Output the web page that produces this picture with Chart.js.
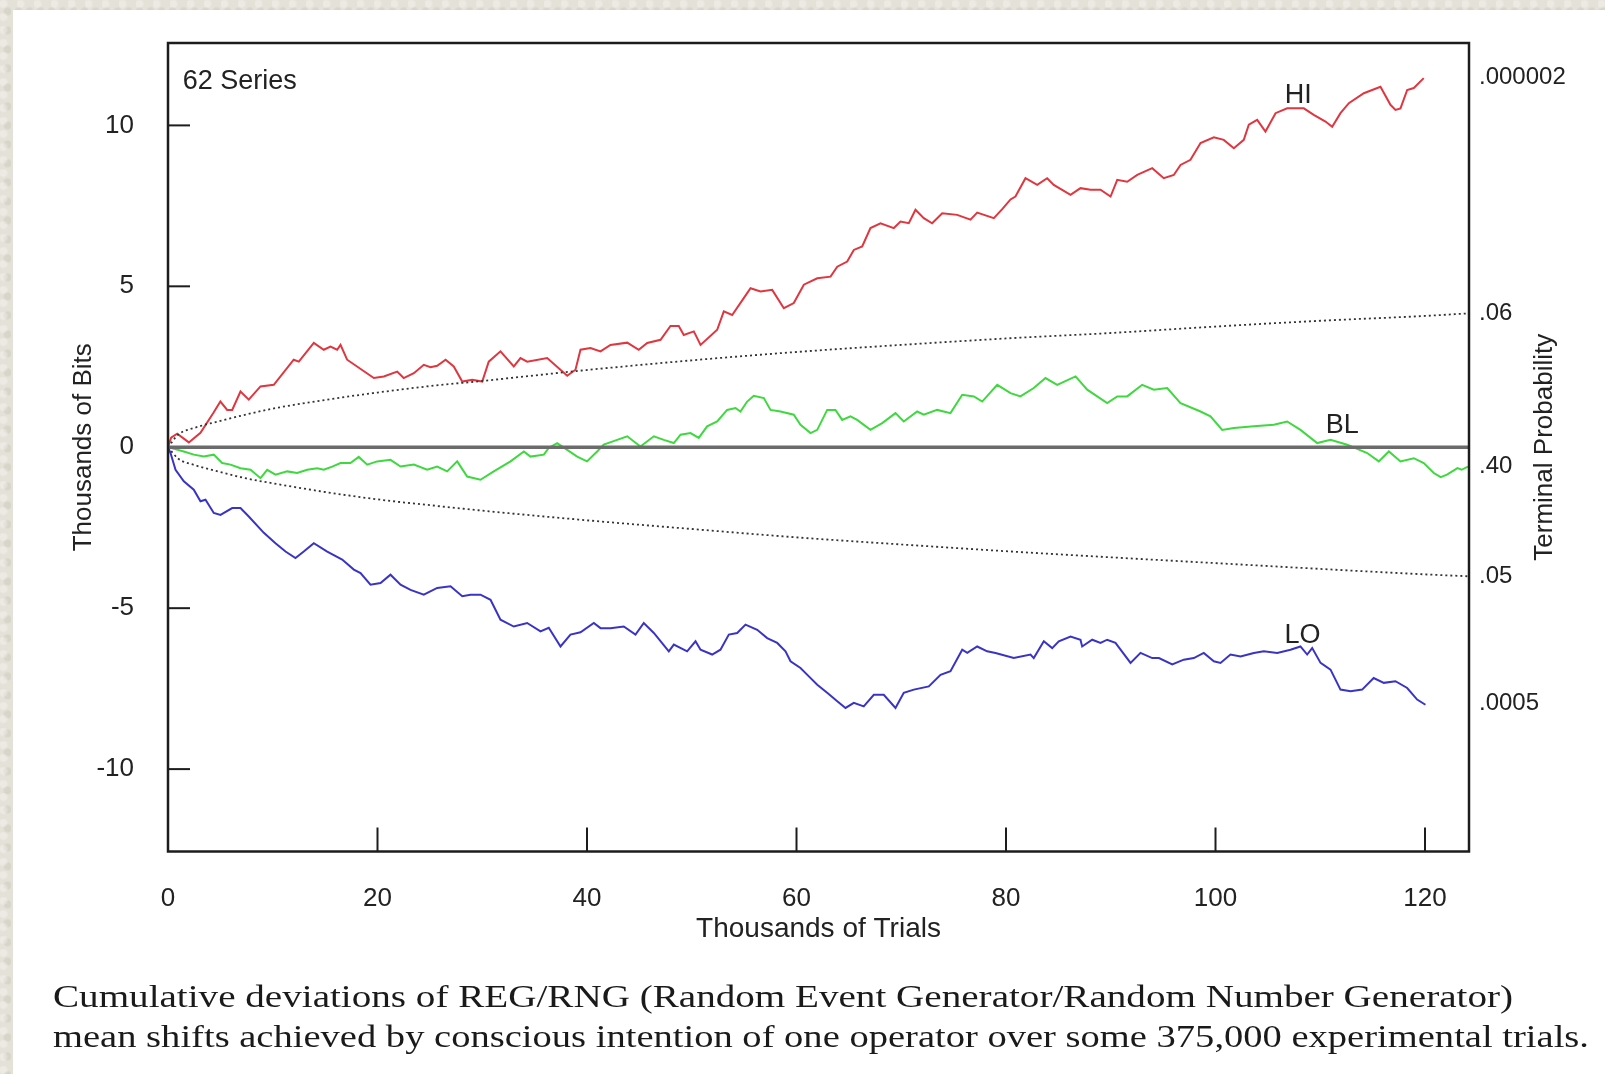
<!DOCTYPE html>
<html>
<head>
<meta charset="utf-8">
<script src="https://cdn.jsdelivr.net/npm/chart.js@4.4.1/dist/chart.umd.min.js"></script>
<style>
  html, body { margin: 0; padding: 0; }
  body {
    width: 1605px; height: 1074px; overflow: hidden; position: relative;
    background-color: #e4e2d8;
    background-image:
      radial-gradient(circle at 20% 30%, rgba(255,255,255,0.28) 0 3px, transparent 5px),
      radial-gradient(circle at 70% 60%, rgba(170,165,150,0.22) 0 3px, transparent 5px);
    background-size: 17px 13px, 11px 19px;
  }
  .paper { position: absolute; left: 13px; top: 10px; right: 0; bottom: 0; background: #fff; }
  #chart { position: absolute; left: 0; top: 0; }
  .caption {
    position: absolute; left: 53px; top: 976px;
    font-family: "Liberation Serif", "DejaVu Serif", serif;
    font-size: 32px; line-height: 40px; color: #1a1a1a; white-space: nowrap;
  }
  .caption span { display: inline-block; transform-origin: 0 50%; }
</style>
</head>
<body>
<div class="paper"></div>
<canvas id="chart" width="1605" height="1074"></canvas>
<div class="caption">
  <div><span id="cap1">Cumulative deviations of REG/RNG (Random Event Generator/Random Number Generator)</span></div>
  <div><span id="cap2">mean shifts achieved by conscious intention of one operator over some 375,000 experimental trials.</span></div>
</div>
<script>
// thousands of trials / thousands of bits
const HI_X = [0, 0.3, 0.88, 1.99, 3.1, 4.34, 5.0, 5.65, 6.13, 6.92, 7.71, 8.83, 10.1, 12.0, 12.49, 13.92, 14.87, 15.51, 16.15, 16.47, 17.1, 19.65, 20.6, 21.88, 22.5, 23.47, 24.42, 25.06, 25.7, 26.5, 27.28, 28.09, 29.04, 30.0, 30.62, 31.74, 33.01, 33.65, 34.29, 36.2, 38.11, 38.9, 39.38, 40.33, 41.29, 42.24, 43.84, 44.94, 45.75, 47.02, 47.97, 48.76, 49.24, 50.2, 50.84, 52.43, 53.06, 53.86, 55.29, 55.61, 56.56, 57.68, 58.79, 59.74, 60.7, 61.98, 63.25, 63.89, 64.84, 65.47, 66.27, 67.06, 68.02, 69.29, 69.93, 70.72, 71.36, 72.15, 72.95, 73.91, 75.34, 76.61, 77.25, 78.84, 79.64, 80.43, 80.9, 81.86, 82.98, 83.93, 84.56, 86.16, 87.11, 88.07, 89.02, 89.98, 90.62, 91.57, 92.53, 93.96, 95.06, 96.02, 96.66, 97.61, 98.57, 99.84, 100.79, 101.75, 102.7, 103.18, 103.98, 104.77, 105.73, 106.84, 108.43, 109.38, 110.5, 111.14, 111.93, 112.73, 114.16, 115.75, 116.7, 117.18, 117.66, 118.3, 118.93, 119.88];
const HI_Y = [0, 0.3, 0.42, 0.15, 0.45, 1.07, 1.42, 1.16, 1.16, 1.73, 1.48, 1.89, 1.94, 2.72, 2.66, 3.24, 3.03, 3.13, 3.03, 3.18, 2.72, 2.15, 2.2, 2.35, 2.15, 2.3, 2.56, 2.49, 2.53, 2.72, 2.51, 2.04, 2.1, 2.04, 2.66, 2.98, 2.51, 2.77, 2.66, 2.77, 2.22, 2.41, 3.03, 3.08, 2.98, 3.18, 3.25, 3.03, 3.24, 3.34, 3.77, 3.77, 3.49, 3.6, 3.18, 3.65, 4.22, 4.11, 4.79, 4.94, 4.84, 4.89, 4.32, 4.48, 5.05, 5.25, 5.3, 5.61, 5.77, 6.13, 6.24, 6.81, 6.96, 6.81, 7.01, 6.96, 7.38, 7.12, 6.96, 7.27, 7.22, 7.07, 7.29, 7.12, 7.4, 7.7, 7.79, 8.36, 8.15, 8.36, 8.15, 7.84, 8.05, 8.0, 8.0, 7.79, 8.31, 8.25, 8.46, 8.67, 8.36, 8.46, 8.77, 8.93, 9.45, 9.63, 9.55, 9.29, 9.55, 10.02, 10.17, 9.81, 10.38, 10.53, 10.53, 10.33, 10.12, 9.96, 10.38, 10.69, 11.0, 11.2, 10.64, 10.48, 10.53, 11.1, 11.16, 11.47];

const BL_X = [0, 0.24, 1.51, 2.46, 3.42, 4.37, 5.17, 5.97, 6.92, 7.88, 8.83, 9.47, 10.26, 11.38, 12.33, 13.29, 14.24, 14.87, 15.68, 16.47, 17.42, 18.21, 19.02, 19.97, 21.24, 22.2, 23.47, 24.74, 25.7, 26.65, 27.61, 28.56, 29.83, 31.1, 32.7, 33.97, 34.6, 35.88, 36.35, 37.15, 38.11, 39.06, 40.0, 40.97, 41.6, 42.88, 43.84, 45.1, 46.38, 47.33, 48.29, 48.93, 49.88, 50.67, 51.47, 52.43, 53.38, 54.18, 54.65, 55.29, 55.92, 56.88, 57.52, 58.47, 59.74, 60.38, 61.34, 61.98, 62.93, 63.72, 64.36, 65.15, 65.79, 67.06, 68.18, 69.45, 70.24, 71.52, 72.15, 73.43, 74.7, 75.82, 76.93, 77.73, 79.16, 80.43, 81.38, 82.65, 83.77, 84.89, 86.64, 87.75, 89.66, 90.62, 91.57, 93.0, 94.11, 95.39, 96.66, 98.57, 99.52, 100.64, 101.75, 103.66, 105.57, 106.84, 108.11, 109.71, 110.98, 112.57, 114.48, 115.59, 116.55, 117.66, 118.93, 119.88, 120.84, 121.5, 122.1, 123.1, 123.5, 124.1];
const BL_Y = [0, -0.02, -0.13, -0.23, -0.29, -0.23, -0.49, -0.54, -0.65, -0.7, -0.96, -0.7, -0.85, -0.75, -0.8, -0.7, -0.65, -0.7, -0.6, -0.49, -0.49, -0.3, -0.54, -0.44, -0.39, -0.6, -0.54, -0.7, -0.6, -0.75, -0.44, -0.91, -1.01, -0.75, -0.44, -0.13, -0.29, -0.23, -0.02, 0.13, -0.08, -0.29, -0.44, -0.13, 0.08, 0.23, 0.34, 0.02, 0.34, 0.23, 0.13, 0.39, 0.44, 0.29, 0.65, 0.8, 1.16, 1.22, 1.11, 1.42, 1.6, 1.53, 1.16, 1.11, 1.01, 0.7, 0.44, 0.54, 1.16, 1.16, 0.85, 0.96, 0.85, 0.54, 0.75, 1.06, 0.8, 1.11, 1.01, 1.16, 1.06, 1.63, 1.58, 1.42, 1.94, 1.68, 1.58, 1.84, 2.15, 1.94, 2.2, 1.79, 1.37, 1.58, 1.58, 1.94, 1.79, 1.84, 1.37, 1.11, 0.96, 0.54, 0.6, 0.65, 0.7, 0.8, 0.54, 0.13, 0.23, 0.08, -0.18, -0.44, -0.13, -0.44, -0.34, -0.49, -0.8, -0.93, -0.85, -0.65, -0.7, -0.6];

const LO_X = [0, 0.24, 0.72, 1.51, 2.46, 3.1, 3.58, 4.37, 5.01, 6.13, 6.92, 7.71, 9.15, 10.26, 11.22, 12.17, 12.96, 13.92, 15.2, 16.63, 17.74, 18.38, 19.33, 20.29, 21.24, 22.2, 23.15, 24.42, 25.7, 26.97, 28.09, 28.88, 29.83, 30.79, 31.74, 33.01, 34.29, 35.56, 36.35, 37.47, 38.42, 39.38, 40.65, 41.29, 42.24, 43.51, 44.63, 45.42, 46.38, 47.81, 48.29, 49.56, 50.36, 50.84, 51.95, 52.74, 53.54, 54.34, 55.13, 56.25, 57.2, 58.16, 58.95, 59.43, 60.38, 61.18, 61.98, 62.93, 63.89, 64.68, 65.47, 66.42, 67.38, 68.33, 69.45, 70.24, 71.2, 72.63, 73.75, 74.7, 75.82, 76.3, 77.25, 78.2, 79.0, 80.74, 82.34, 82.65, 83.61, 84.41, 85.04, 86.16, 87.11, 87.27, 88.23, 89.02, 89.66, 90.45, 91.89, 92.84, 93.96, 94.6, 95.87, 96.97, 97.93, 98.88, 99.84, 100.48, 101.43, 102.39, 103.66, 104.61, 105.89, 107.16, 108.11, 108.75, 109.23, 110.03, 110.98, 111.93, 112.89, 114.0, 115.1, 116.07, 117.18, 118.3, 119.25, 120.04];
const LO_Y = [0, -0.18, -0.7, -1.06, -1.32, -1.68, -1.63, -2.04, -2.1, -1.89, -1.89, -2.15, -2.66, -2.98, -3.24, -3.44, -3.24, -2.98, -3.24, -3.49, -3.8, -3.91, -4.27, -4.22, -3.96, -4.27, -4.43, -4.58, -4.37, -4.32, -4.63, -4.58, -4.58, -4.74, -5.36, -5.57, -5.46, -5.72, -5.61, -6.19, -5.82, -5.75, -5.46, -5.62, -5.62, -5.57, -5.82, -5.46, -5.77, -6.34, -6.13, -6.34, -6.03, -6.29, -6.44, -6.29, -5.82, -5.77, -5.51, -5.67, -5.93, -6.08, -6.34, -6.65, -6.86, -7.12, -7.38, -7.63, -7.89, -8.1, -7.94, -8.05, -7.69, -7.69, -8.1, -7.63, -7.53, -7.43, -7.07, -6.96, -6.29, -6.39, -6.19, -6.34, -6.39, -6.55, -6.44, -6.55, -6.03, -6.24, -6.03, -5.88, -5.98, -6.19, -5.98, -6.08, -5.98, -6.08, -6.7, -6.39, -6.55, -6.55, -6.75, -6.6, -6.55, -6.39, -6.65, -6.7, -6.44, -6.5, -6.39, -6.34, -6.39, -6.29, -6.19, -6.44, -6.24, -6.7, -6.91, -7.53, -7.58, -7.53, -7.17, -7.32, -7.27, -7.48, -7.84, -8.0];

// dotted probability envelopes
const ENV_X = [0, 1, 2.5, 5, 7.5, 10, 15, 20, 25, 30, 40, 50, 60, 70, 80, 90, 100, 110, 120, 124.2];
const ENV_UP = [0, 0.4, 0.6, 0.82, 1.02, 1.2, 1.47, 1.7, 1.9, 2.06, 2.4, 2.7, 2.96, 3.18, 3.38, 3.55, 3.75, 3.93, 4.08, 4.16];
const ENV_DN = [0, -0.36, -0.55, -0.77, -0.97, -1.12, -1.39, -1.62, -1.8, -1.97, -2.27, -2.54, -2.8, -3.02, -3.23, -3.42, -3.6, -3.78, -3.95, -4.01];

const BASE_X = [0, 124.2];
const BASE_Y = [0, 0];

const RIGHT_TICK_VALUES = [11.5, 4.16, -0.6, -4.0, -7.95];
const RIGHT_TICK_LABELS = ['.000002', '.06', '.40', '.05', '.0005'];

const X_MIN = 0, X_MAX = 124.2;
const Y_MIN = -12.56, Y_MAX = 12.56;

const FONT = '"Liberation Sans", Arial, sans-serif';
const INK = '#222';

const pts = (xs, ys) => xs.map((x, i) => ({x, y: ys[i]}));

const line = (label, xs, ys, color, extra) => Object.assign({
  label,
  data: pts(xs, ys),
  borderColor: color,
  borderWidth: 2,
  pointRadius: 0,
  tension: 0,
  fill: false
}, extra);

const curveLabels = [
  {text: '62 Series', x: 1.4, y: 11.35, align: 'left'},
  {text: 'HI', x: 107.9, y: 10.92, align: 'center'},
  {text: 'BL', x: 112.1, y: 0.67, align: 'center'},
  {text: 'LO', x: 108.3, y: -5.85, align: 'center'}
];

const decor = {
  id: 'decor',
  afterDatasetsDraw(chart) {
    const {ctx, chartArea: a, scales: {x, y}} = chart;
    ctx.save();
    ctx.strokeStyle = '#1d1d1d';
    ctx.lineWidth = 2;
    y.ticks.forEach((t) => {
      if (t.value === 0) return;
      const py = y.getPixelForValue(t.value);
      ctx.beginPath();
      ctx.moveTo(a.left, py);
      ctx.lineTo(a.left + 22, py);
      ctx.stroke();
    });
    x.ticks.forEach((t) => {
      if (t.value === 0) return;
      const px = x.getPixelForValue(t.value);
      ctx.beginPath();
      ctx.moveTo(px, a.bottom);
      ctx.lineTo(px, a.bottom - 24);
      ctx.stroke();
    });
    ctx.lineWidth = 2.5;
    ctx.strokeRect(a.left, a.top, a.right - a.left, a.bottom - a.top);

    ctx.fillStyle = INK;
    ctx.font = `27px ${FONT}`;
    ctx.textBaseline = 'middle';
    curveLabels.forEach((l) => {
      ctx.textAlign = l.align;
      ctx.fillText(l.text, x.getPixelForValue(l.x), y.getPixelForValue(l.y));
    });

    // right axis title reads bottom-to-top like the left one
    ctx.font = `26px ${FONT}`;
    ctx.textAlign = 'center';
    ctx.translate(1545, (a.top + a.bottom) / 2);
    ctx.rotate(-Math.PI / 2);
    ctx.fillText('Terminal Probability', 0, 0);
    ctx.restore();
  }
};

new Chart(document.getElementById('chart'), {
  type: 'line',
  data: {
    datasets: [
      line('base', BASE_X, BASE_Y, '#6b6b6b', {borderWidth: 3.5}),
      line('upper', ENV_X, ENV_UP, '#333', {borderWidth: 1.8, borderDash: [2, 3], cubicInterpolationMode: 'monotone'}),
      line('lower', ENV_X, ENV_DN, '#333', {borderWidth: 1.8, borderDash: [2, 3], cubicInterpolationMode: 'monotone'}),
      line('BL', BL_X, BL_Y, '#3fd83f'),
      line('LO', LO_X, LO_Y, '#3a34c6'),
      line('HI', HI_X, HI_Y, '#e0363f')
    ]
  },
  options: {
    responsive: false,
    animation: false,
    layout: {padding: {top: 43, left: 0, right: 0, bottom: 0}},
    plugins: {legend: {display: false}, tooltip: {enabled: false}},
    scales: {
      x: {
        type: 'linear',
        min: X_MIN,
        max: X_MAX,
        grid: {display: false, drawTicks: false},
        border: {display: false},
        ticks: {stepSize: 20, includeBounds: false, padding: 32, color: INK, font: {family: FONT, size: 26}},
        title: {display: true, text: 'Thousands of Trials', color: INK, font: {family: FONT, size: 28}, padding: {top: 0, bottom: 128}},
        afterFit: (s) => { s.height = 1074 - 851.5; }
      },
      y: {
        position: 'left',
        min: Y_MIN,
        max: Y_MAX,
        grid: {display: false, drawTicks: false},
        border: {display: false},
        // small lineHeight keeps the label overhang from pushing the plot top down
        ticks: {stepSize: 5, includeBounds: false, padding: 34, color: INK, font: {family: FONT, size: 26, lineHeight: 0.6}, callback: (v) => String(v)},
        title: {display: true, text: 'Thousands of Bits', color: INK, font: {family: FONT, size: 26}, padding: {top: 68, bottom: 0}},
        afterFit: (s) => { s.width = 168; }
      },
      yR: {
        position: 'right',
        min: Y_MIN,
        max: Y_MAX,
        grid: {display: false, drawTicks: false},
        border: {display: false},
        afterBuildTicks: (s) => { s.ticks = RIGHT_TICK_VALUES.map((v) => ({value: v})); },
        ticks: {autoSkip: false, padding: 10, color: INK, font: {family: FONT, size: 24, lineHeight: 0.6}, callback: (v, i) => RIGHT_TICK_LABELS[i]},
        afterFit: (s) => { s.width = 1605 - 1469; }
      }
    }
  },
  plugins: [decor]
});

// stretch caption lines to the widths they have in the picture
[['cap1', 1460], ['cap2', 1536]].forEach(([id, w]) => {
  const el = document.getElementById(id);
  el.style.transform = `scaleX(${w / el.getBoundingClientRect().width})`;
});
</script>
</body>
</html>
